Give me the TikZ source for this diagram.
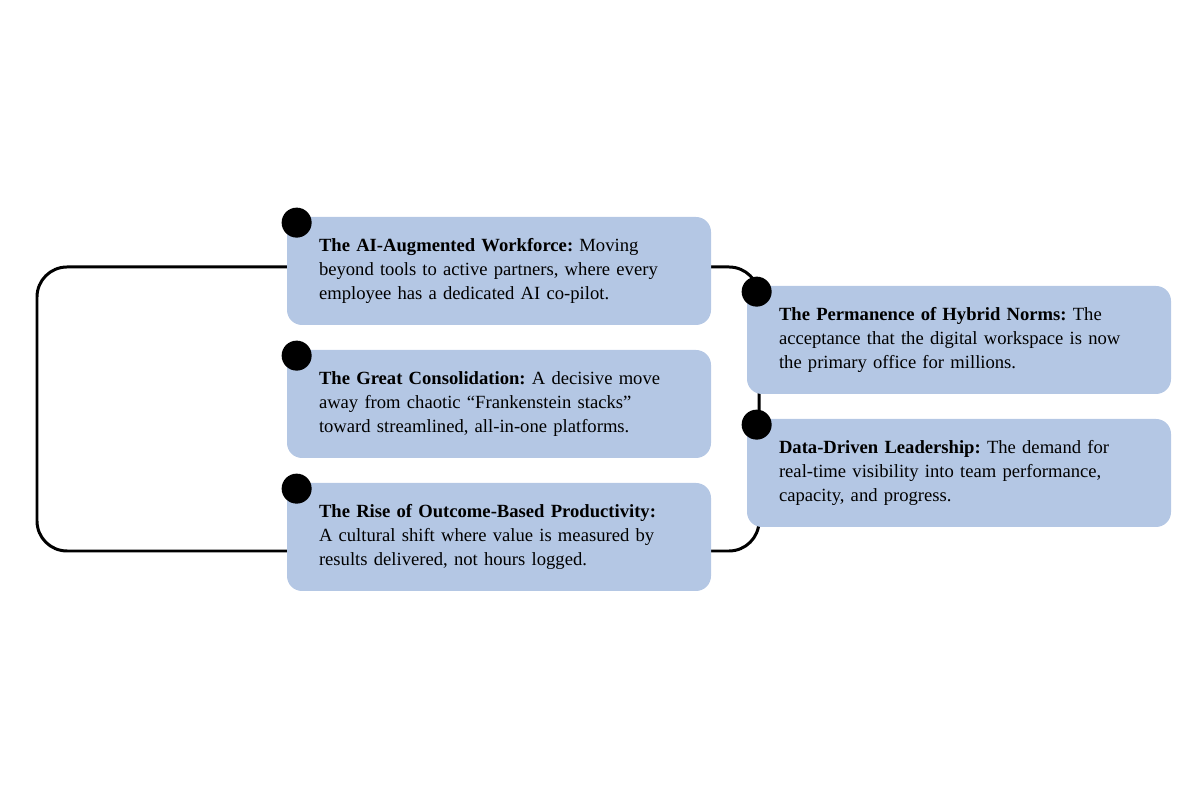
\documentclass[tikz,border=0pt]{standalone}
\usepackage{fontspec}
\setmainfont{Liberation Serif}
\usepackage{tikz}
\definecolor{boxblue}{RGB}{180,199,228}
\frenchspacing

\begin{document}
\begin{tikzpicture}[
  trend/.style={fill=boxblue, rounded corners=0.3cm, minimum width=8.48cm, minimum height=2.16cm,
    text width=7.2cm, inner xsep=0.64cm, align=left, font=\fontsize{10.6}{13.7}\selectfont},
  dot/.style={circle, fill=black, minimum size=0.6cm, inner sep=0pt, xshift=0.2cm, yshift=-0.12cm},
  spine/.style={line width=1.7pt, rounded corners=0.6cm}
]
\useasboundingbox (0,0) rectangle (24,16);

\draw[spine] (0.74,4.98) rectangle (15.18,10.66);

\node[trend] (workforce) at (9.98,10.58) {\textbf{The AI-Augmented Workforce:} Moving\\ beyond tools to active partners, where every\\ employee has a dedicated AI co-pilot.};
\node[trend] (consolidation) at (9.98,7.92) {\textbf{The Great Consolidation:} A decisive move\\ away from chaotic “Frankenstein stacks”\\ toward streamlined, all-in-one platforms.};
\node[trend] (outcome) at (9.98,5.26) {\textbf{The Rise of Outcome-Based Productivity:}\\ A cultural shift where value is measured by\\ results delivered, not hours logged.};
\node[trend] (hybrid) at (19.18,9.2) {\textbf{The Permanence of Hybrid Norms:} The\\ acceptance that the digital workspace is now\\ the primary office for millions.};
\node[trend] (leadership) at (19.18,6.54) {\textbf{Data-Driven Leadership:} The demand for\\ real-time visibility into team performance,\\ capacity, and progress.};

\node[dot] (dot1) at (workforce.north west) {};
\node[dot] (dot2) at (consolidation.north west) {};
\node[dot] (dot3) at (outcome.north west) {};
\node[dot] (dot4) at (hybrid.north west) {};
\node[dot] (dot5) at (leadership.north west) {};
\end{tikzpicture}
\end{document}
